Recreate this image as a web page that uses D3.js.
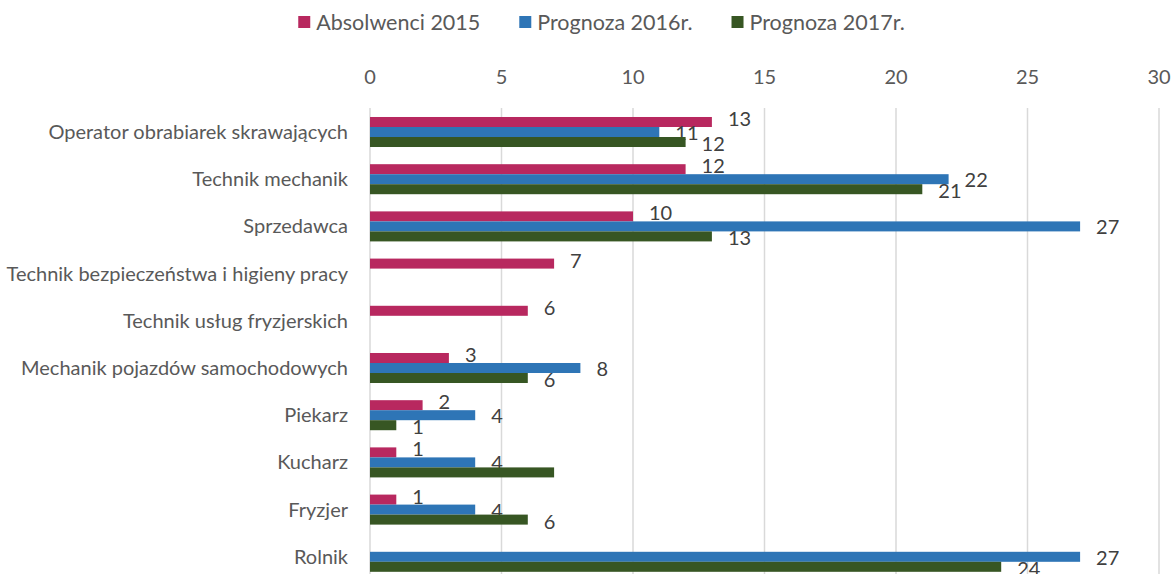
<!DOCTYPE html>
<html>
<head>
<meta charset="utf-8">
<script src="https://cdn.jsdelivr.net/npm/d3@7"></script>
<style>
  body { margin: 0; background: #fff; }
  #chart text { font-family: Lato, "Open Sans", sans-serif; }
</style>
</head>
<body>
<div id="chart"></div>
<script>
// chart data
const categories = [
  'Operator obrabiarek skrawających',
  'Technik mechanik',
  'Sprzedawca',
  'Technik bezpieczeństwa i higieny pracy',
  'Technik usług fryzjerskich',
  'Mechanik pojazdów samochodowych',
  'Piekarz',
  'Kucharz',
  'Fryzjer',
  'Rolnik',
];
const seriesNames = ['Absolwenci 2015', 'Prognoza 2016r.', 'Prognoza 2017r.'];
const absolwenci2015 = [13, 12, 10, 7, 6, 3, 2, 1, 1, null];
const prognoza2016 = [11, 22, 27, null, null, 8, 4, 4, 4, 27];
const prognoza2017 = [12, 21, 13, null, null, 6, 1, 7, 6, 24];
const xTicks = [0, 5, 10, 15, 20, 25, 30];
// the Kucharz / 2017 label is not shown in the source chart
const hiddenLabels = ['Kucharz|Prognoza 2017r.'];

const colors = ['#B8285F', '#2E75B6', '#375623'];

function drawChart() {
  const w = 1175;
  const h = 574;
  const svg = d3.select('#chart').append('svg').attr('width', w).attr('height', h);

  const x = d3.scaleLinear().domain([0, 30]).range([370, 1159]);
  const y = d3.scaleBand().domain(categories).range([108.4, 580.4]).paddingInner(0.364).paddingOuter(0.182);
  const ySub = d3.scaleBand().domain(seriesNames).range([0, y.bandwidth()]);

  const series = [absolwenci2015, prognoza2016, prognoza2017].map((vals, i) => ({
    name: seriesNames[i],
    color: colors[i],
    values: vals.map((v, j) => ({ cat: categories[j], v })),
  }));

  // gridlines
  svg
    .selectAll('line.grid')
    .data(xTicks)
    .enter()
    .append('line')
    .attr('class', 'grid')
    .attr('x1', (d) => x(d))
    .attr('x2', (d) => x(d))
    .attr('y1', 108)
    .attr('y2', h)
    .attr('stroke', '#D9D9D9')
    .attr('stroke-width', 1.5);

  // top axis labels
  svg
    .selectAll('text.tick')
    .data(xTicks)
    .enter()
    .append('text')
    .attr('class', 'tick')
    .attr('x', (d) => x(d))
    .attr('y', 77)
    .attr('dy', '0.35em')
    .attr('text-anchor', 'middle')
    .attr('font-size', 20)
    .attr('fill', '#595959')
    .text((d) => d);

  // category labels
  svg
    .selectAll('text.cat')
    .data(categories)
    .enter()
    .append('text')
    .attr('class', 'cat')
    .attr('x', 348)
    .attr('y', (d) => y(d) + y.bandwidth() / 2)
    .attr('dy', '0.35em')
    .attr('text-anchor', 'end')
    .attr('font-size', 20)
    .attr('fill', '#595959')
    .text((d) => d);

  const groups = svg
    .selectAll('g.series')
    .data(series)
    .enter()
    .append('g')
    .attr('class', 'series');

  groups
    .selectAll('rect')
    .data((s) => s.values.filter((d) => d.v != null).map((d) => ({ ...d, s })))
    .enter()
    .append('rect')
    .attr('x', x(0))
    .attr('y', (d) => y(d.cat) + ySub(d.s.name))
    .attr('width', (d) => x(d.v) - x(0))
    .attr('height', ySub.bandwidth())
    .attr('fill', (d) => d.s.color);

  // data labels
  const labelShift = [-3, 1, 2];
  groups
    .selectAll('text.lbl')
    .data((s, i) =>
      s.values
        .filter((d) => d.v != null && !hiddenLabels.includes(d.cat + '|' + s.name))
        .map((d) => ({ ...d, s, i }))
    )
    .enter()
    .append('text')
    .attr('class', 'lbl')
    .attr('x', (d) => x(d.v) + 16)
    .attr('y', (d) => y(d.cat) + ySub(d.s.name) + ySub.bandwidth() / 2 + labelShift[d.i])
    .attr('dy', '0.35em')
    .attr('font-size', 20)
    .attr('fill', '#404040')
    .text((d) => d.v);

  // legend
  const legend = svg.append('g');
  let lx = 0;
  seriesNames.forEach((name, i) => {
    const item = legend.append('g').attr('transform', `translate(${lx},0)`);
    item.append('rect').attr('x', 0).attr('y', 16).attr('width', 12).attr('height', 12).attr('fill', colors[i]);
    const t = item
      .append('text')
      .attr('x', 18)
      .attr('y', 22)
      .attr('dy', '0.35em')
      .attr('font-size', 21.5)
      .attr('fill', '#595959')
      .text(name);
    lx += 18 + t.node().getComputedTextLength() + 39;
  });
  const lw = lx - 39;
  legend.attr('transform', `translate(${601.5 - lw / 2},0)`);
}

window.onload = function () {
  drawChart();
};
</script>
</body>
</html>
